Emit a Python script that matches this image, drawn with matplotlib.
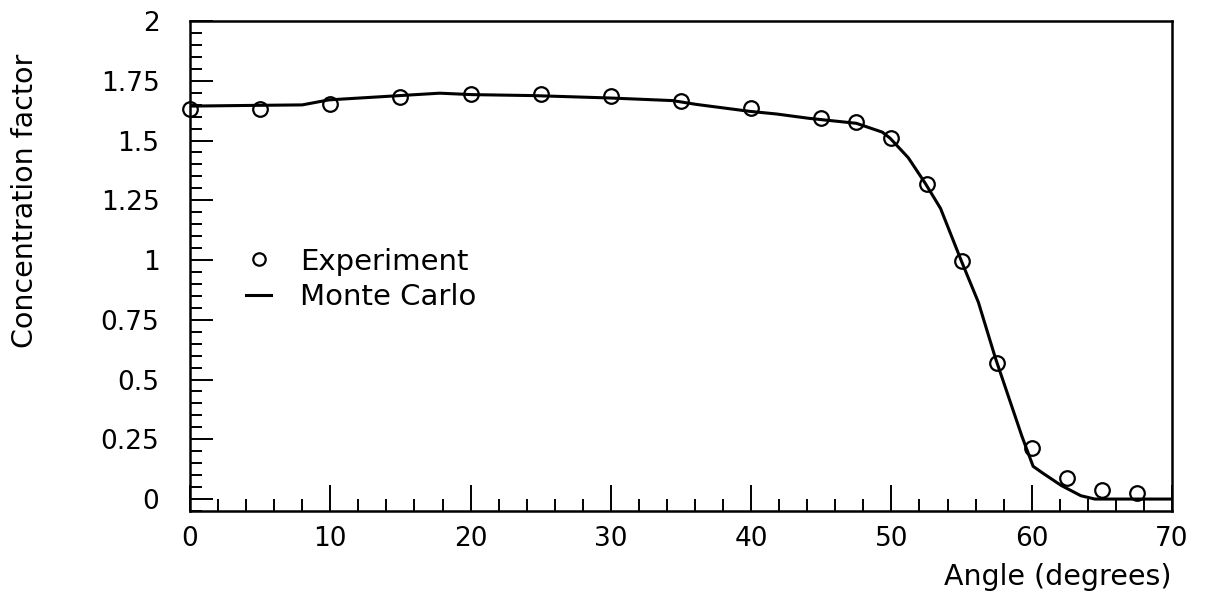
import matplotlib
matplotlib.use("Agg")
import matplotlib.pyplot as plt
from matplotlib.ticker import MultipleLocator, FixedLocator

# Measured concentration factor vs. angle
exp_angle = [0, 5, 10, 15, 20, 25, 30, 35, 40, 45, 47.5, 50, 52.5, 55,
             57.5, 60, 62.5, 65, 67.5]
exp_factor = [1.633, 1.633, 1.654, 1.681, 1.695, 1.695, 1.685, 1.667, 1.634,
              1.596, 1.576, 1.511, 1.319, 0.995, 0.568, 0.215, 0.086, 0.037,
              0.026]

# Monte Carlo prediction
mc_angle = [0, 4.6, 8.0, 9.9, 13.0, 17.8, 20.1, 24.4, 29.9, 34.4, 36.1, 39.9,
            41.8, 44.1, 47.5, 49.35, 49.9, 51.2, 52.4, 53.5, 55.0, 56.2, 57.4,
            59.3, 60.1, 60.8, 62.1, 63.5, 64.5, 66.4, 70]
mc_factor = [1.644, 1.647, 1.649, 1.670, 1.681, 1.698, 1.692, 1.688, 1.678,
             1.667, 1.651, 1.622, 1.611, 1.593, 1.572, 1.535, 1.51, 1.428,
             1.322, 1.216, 0.994, 0.823, 0.592, 0.263, 0.137, 0.108, 0.057,
             0.014, 0.0, 0.0, 0.0]

y_ticks = [0, 0.25, 0.5, 0.75, 1, 1.25, 1.5, 1.75, 2]
y_ticklabels = ["0", "0.25", "0.5", "0.75", "1", "1.25", "1.5", "1.75", "2"]
x_ticks = [0, 10, 20, 30, 40, 50, 60, 70]
x_ticklabels = ["0", "10", "20", "30", "40", "50", "60", "70"]

plt.rcParams["font.family"] = ["DejaVu Sans"]

W, H = 1210, 594
fig = plt.figure(figsize=(W / 100, H / 100), dpi=100)
ax_left, ax_right, ax_top, ax_bottom = 190, 1172, 21, 511
ax = fig.add_axes([ax_left / W, 1 - ax_bottom / H,
                   (ax_right - ax_left) / W, (ax_bottom - ax_top) / H])

line_mc, = ax.plot(mc_angle, mc_factor, color="black", lw=2.2,
                   solid_joinstyle="round", zorder=3)
pts_exp, = ax.plot(exp_angle, exp_factor, linestyle="none", marker="o",
                   ms=10.5, mfc="none", mec="black", mew=1.6, clip_on=False,
                   zorder=4)

ax.set_xlim(0, 70)
ax.set_ylim(-0.05, 2.0)

for s in ax.spines.values():
    s.set_linewidth(1.8)

ax.xaxis.set_major_locator(FixedLocator(x_ticks))
ax.set_xticklabels(x_ticklabels)
ax.xaxis.set_minor_locator(MultipleLocator(2))
ax.yaxis.set_major_locator(FixedLocator(y_ticks))
ax.set_yticklabels(y_ticklabels)
ax.yaxis.set_minor_locator(MultipleLocator(0.05))

ax.tick_params(axis="both", which="both", direction="in", top=False,
               right=False, width=1.4, labelsize=19)
ax.tick_params(axis="x", which="major", length=19, pad=11)
ax.tick_params(axis="x", which="minor", length=8.5)
ax.tick_params(axis="y", which="major", length=16.5, pad=22)
ax.tick_params(axis="y", which="minor", length=8.5)

ax.set_xlabel("Angle (degrees)", fontsize=20.5, loc="right", labelpad=8)
fig.text(25 / W, 1 - 201 / H, "Concentration factor", rotation=90,
         fontsize=20.5, ha="center", va="center")

ax.legend([pts_exp, line_mc], ["Experiment", "Monte Carlo"],
          loc="center left", bbox_to_anchor=(4.0, 0.92),
          bbox_transform=ax.transData, frameon=False, fontsize=21,
          handlelength=0.85, handletextpad=1.0, labelspacing=0.25,
          borderpad=0, borderaxespad=0, markerscale=0.85)

fig.savefig("out.png", dpi=100)
